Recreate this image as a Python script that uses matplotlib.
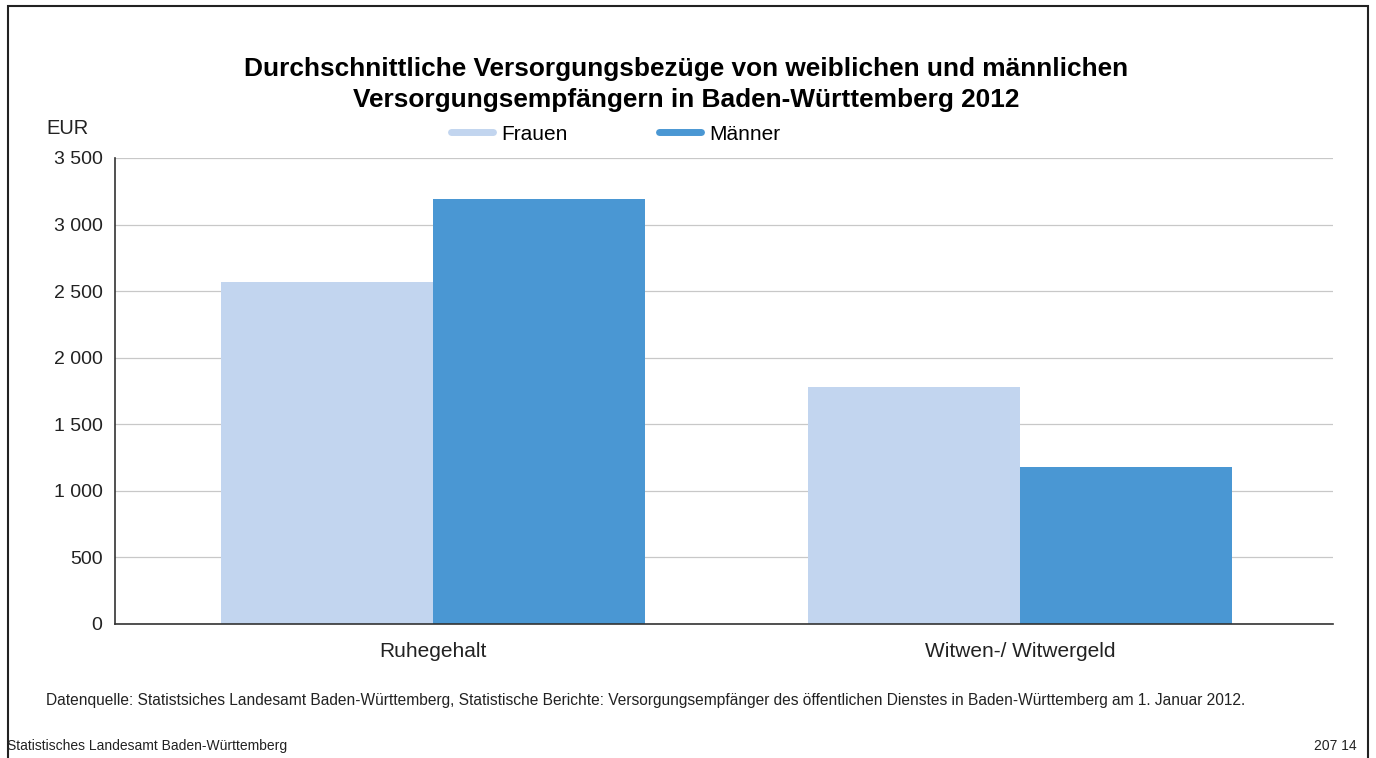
import matplotlib.pyplot as plt
from matplotlib.patches import Rectangle
from matplotlib.lines import Line2D
import numpy as np

plt.rcParams['font.family'] = ['Liberation Sans', 'DejaVu Sans']

# data
categories = ["Ruhegehalt", "Witwen-/ Witwergeld"]
frauen = [2570, 1780]
maenner = [3190, 1180]
series_names = ["Frauen", "Männer"]
yticks = [0, 500, 1000, 1500, 2000, 2500, 3000, 3500]
ytick_labels = ["0", "500", "1 000", "1 500", "2 000", "2 500", "3 000", "3 500"]

c_light = "#c2d5ef"
c_dark = "#4a97d3"

fig = plt.figure(figsize=(13.76, 7.58), dpi=100)
ax = fig.add_axes([115/1376, 1 - 624/758, (1333-115)/1376, (624-158)/758])

x = np.arange(len(categories))
w = 0.361
ax.bar(x - w/2, frauen, w, color=c_light, zorder=2)
ax.bar(x + w/2, maenner, w, color=c_dark, zorder=2)

ax.set_xlim(-0.542, 1.533)
ax.set_ylim(0, 3500)
ax.set_yticks(yticks)
ax.set_yticklabels(ytick_labels, fontsize=14, color="#222222")
ax.set_xticks(x)
ax.set_xticklabels(categories, fontsize=15, color="#222222")
ax.tick_params(axis="both", length=0)
ax.tick_params(axis="y", pad=9)
ax.tick_params(axis="x", pad=13)
ax.grid(axis="y", color="#c8c8c8", linewidth=0.9, zorder=0)
for s in ["top", "right"]:
    ax.spines[s].set_visible(False)
ax.spines["left"].set_color("#333333")
ax.spines["bottom"].set_color("#333333")
ax.spines["left"].set_linewidth(1.2)
ax.spines["bottom"].set_linewidth(1.2)

fig.text(686/1376, 1 - 84.5/758,
         "Durchschnittliche Versorgungsbezüge von weiblichen und männlichen\nVersorgungsempfängern in Baden-Württemberg 2012",
         ha="center", va="center", fontsize=18.9, fontweight="bold", linespacing=1.35)
fig.text(46/1376, 1 - 128/758, "EUR", ha="left", va="center", fontsize=14.5, color="#222222")

handles = [Line2D([0], [0], color=c_light, lw=5, solid_capstyle="round"),
           Line2D([0], [0], color=c_dark, lw=5, solid_capstyle="round")]
fig.legend(handles, series_names, loc="center", bbox_to_anchor=(616/1376, 1 - 134/758),
           ncol=2, frameon=False, fontsize=15, handlelength=2.0, handletextpad=0.4,
           columnspacing=4.4)

fig.text(46/1376, 1 - 701/758,
         "Datenquelle: Statistsiches Landesamt Baden-Württemberg, Statistische Berichte: Versorgungsempfänger des öffentlichen Dienstes in Baden-Württemberg am 1. Januar 2012.",
         ha="left", va="center", fontsize=11.2, color="#222222")
fig.text(7/1376, 1 - 746/758, "Statistisches Landesamt Baden-Württemberg",
         ha="left", va="center", fontsize=10, color="#222222")
fig.text(1357/1376, 1 - 746/758, "207 14",
         ha="right", va="center", fontsize=10, color="#222222")

# frame around the page
fig.patches.append(Rectangle((8/1376, -0.05), (1368-8)/1376, 1.05 - 6/758,
                             transform=fig.transFigure, fill=False,
                             edgecolor="#222222", linewidth=1.5))

fig.savefig("out.png", dpi=100)
